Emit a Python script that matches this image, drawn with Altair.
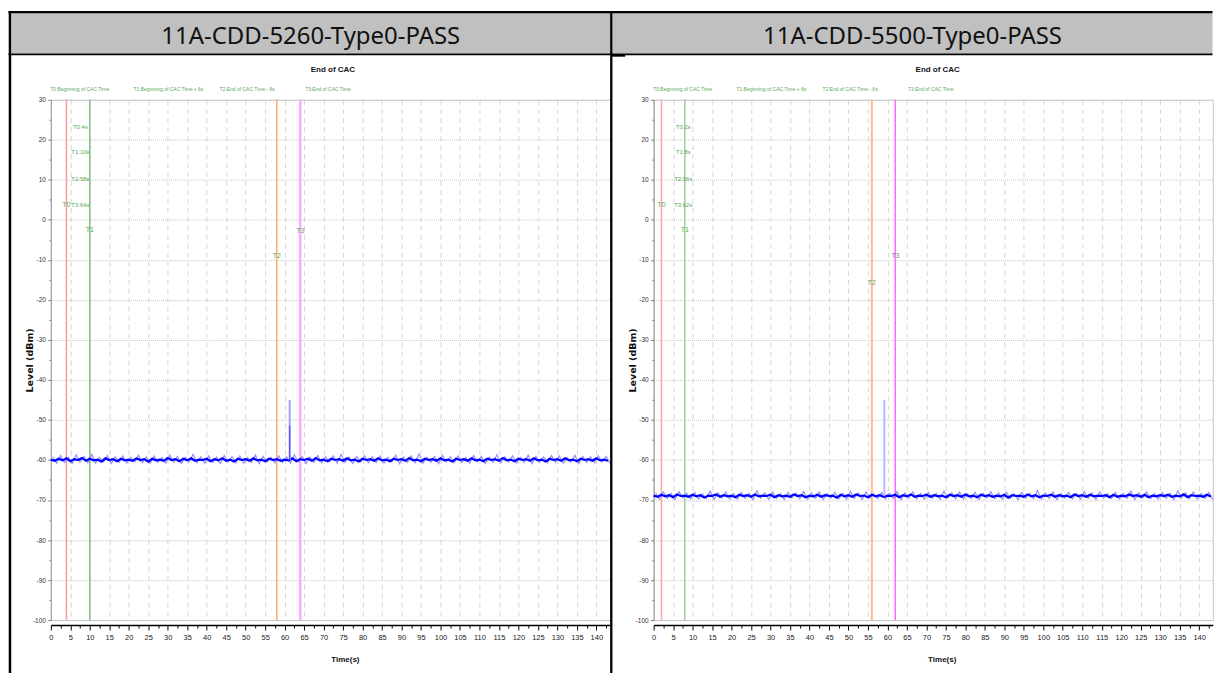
import altair as alt
import pandas as pd

# ---------------------------------------------------------------- text / fonts
NARROW = "Liberation Sans, Arial, sans-serif"
WIDE_BOLD = "DejaVu Sans, Verdana, sans-serif"
HEADER_FONT = "Noto Sans, Open Sans, sans-serif"
GREEN = "#5aa95a"

panel_titles = ["11A-CDD-5260-Type0-PASS", "11A-CDD-5500-Type0-PASS"]
chart_title = "End of CAC"

marker_names = ["T0", "T1", "T2", "T3"]
legend_names = [
    "T0:Beginning of CAC Time",
    "T1:Beginning of CAC Time + 6s",
    "T2:End of CAC Time - 6s",
    "T3:End of CAC Time",
]

# ---------------------------------------------------------------- marker times (s)
left_marker_times = [4, 10, 58, 64]
right_marker_times = [2, 8, 56, 62]

# levels (dBm) at which the marker names are written
left_marker_label_levels = [3.8, -2.6, -9.1, -2.9]
right_marker_label_levels = [3.8, -2.6, -15.8, -9.1]

# stacked "Tn:ts" summary
info_label_time = 7.6
info_label_levels = [23.3, 16.9, 10.2, 3.8]

# ---------------------------------------------------------------- level traces (dBm), one sample per second
trace_times = list(range(144))

left_level = [
    -59.9, -60.2, -59.7, -60.1, -59.6, -60.3, -59.8, -60.0, -59.5, -60.2,
    -59.7, -60.1, -59.9, -60.4, -59.6, -60.0, -59.8, -60.3, -59.7, -60.1,
    -59.9, -60.2, -59.6, -60.0, -59.8, -60.4, -59.7, -60.1, -59.9, -60.2,
    -59.5, -60.0, -59.8, -60.3, -59.7, -60.1, -59.6, -60.2, -59.9, -60.0,
    -59.7, -60.3, -59.8, -60.1, -59.6, -60.2, -59.9, -60.4, -59.7, -60.0,
    -59.8, -60.2, -59.6, -60.1, -59.9, -60.3, -59.7, -60.0, -59.8, -60.2,
    -59.9, -60.1, -59.6, -60.3, -59.8, -60.0, -59.7, -60.2, -59.5, -60.1,
    -59.9, -60.3, -59.7, -60.0, -59.8, -60.2, -59.6, -60.1, -59.9, -60.4,
    -59.7, -60.0, -59.8, -60.2, -59.6, -60.1, -59.9, -60.3, -59.7, -60.0,
    -59.8, -60.2, -59.5, -60.1, -59.9, -60.3, -59.7, -60.0, -59.8, -60.2,
    -59.6, -60.1, -59.9, -60.4, -59.7, -60.0, -59.8, -60.2, -59.6, -60.1,
    -59.9, -60.3, -59.7, -60.0, -59.8, -60.2, -59.5, -60.1, -59.9, -60.3,
    -59.7, -60.0, -59.8, -60.2, -59.6, -60.1, -59.9, -60.4, -59.7, -60.0,
    -59.8, -60.2, -59.6, -60.1, -59.9, -60.3, -59.7, -60.0, -59.8, -60.2,
    -59.6, -60.1, -59.9, -60.2,
]
left_hold = [
    -59.2, -60.8, -58.9, -60.6, -59.4, -60.9, -58.7, -60.5, -59.1, -60.7,
    -58.6, -60.8, -59.3, -60.5, -58.9, -60.9, -59.2, -60.6, -59.0, -60.8,
    -59.3, -60.5, -58.8, -60.7, -59.2, -60.9, -59.0, -60.6, -59.4, -60.8,
    -58.8, -60.6, -59.1, -60.9, -59.3, -60.5, -58.6, -60.7, -59.2, -60.8,
    -59.0, -60.6, -59.3, -60.9, -58.9, -60.5, -59.2, -60.7, -59.0, -60.8,
    -59.4, -60.6, -58.8, -60.9, -59.1, -60.5, -59.3, -60.7, -59.0, -60.6,
    -59.2, -60.8, -58.7, -60.5, -59.1, -60.9, -59.3, -60.6, -58.9, -60.7,
    -59.2, -60.5, -59.0, -60.8, -58.6, -60.6, -59.3, -60.9, -59.1, -60.5,
    -58.9, -60.7, -59.2, -60.6, -59.0, -60.8, -59.4, -60.5, -58.8, -60.9,
    -59.2, -60.6, -59.0, -60.7, -58.5, -60.8, -59.3, -60.6, -59.1, -60.9,
    -58.8, -60.5, -59.2, -60.7, -59.0, -60.6, -59.4, -60.8, -58.9, -60.5,
    -59.1, -60.9, -59.3, -60.6, -58.7, -60.7, -59.2, -60.5, -59.0, -60.8,
    -59.3, -60.6, -58.8, -60.9, -59.1, -60.5, -59.2, -60.7, -58.9, -60.6,
    -59.0, -60.8, -59.4, -60.5, -58.8, -60.9, -59.1, -60.6, -59.2, -60.7,
    -58.9, -60.5, -59.1, -60.8,
]
right_level = [
    -68.9, -69.2, -68.7, -69.1, -68.8, -69.3, -68.6, -69.0, -68.9, -69.2,
    -68.7, -69.1, -68.8, -69.4, -68.9, -69.0, -68.6, -69.2, -68.8, -69.1,
    -68.9, -69.3, -68.7, -69.0, -68.8, -69.2, -68.6, -69.1, -68.9, -69.0,
    -68.7, -69.3, -68.8, -69.1, -68.9, -69.2, -68.6, -69.0, -68.8, -69.3,
    -68.9, -69.1, -68.7, -69.2, -68.8, -69.0, -68.9, -69.4, -68.7, -69.1,
    -68.8, -69.2, -68.6, -69.0, -68.9, -69.3, -68.7, -69.1, -68.8, -69.2,
    -68.9, -69.0, -68.7, -69.3, -68.8, -69.1, -68.6, -69.2, -68.9, -69.0,
    -68.7, -69.2, -68.8, -69.1, -68.9, -69.3, -68.7, -69.0, -68.8, -69.2,
    -68.6, -69.1, -68.9, -69.3, -68.7, -69.0, -68.8, -69.2, -68.9, -69.1,
    -68.7, -69.4, -68.8, -69.0, -68.9, -69.2, -68.6, -69.1, -68.8, -69.3,
    -68.9, -69.0, -68.7, -69.2, -68.8, -69.1, -68.9, -69.3, -68.6, -69.0,
    -68.8, -69.2, -68.7, -69.1, -68.9, -69.0, -68.8, -69.3, -68.7, -69.2,
    -68.9, -69.1, -68.6, -69.0, -68.8, -69.2, -68.7, -69.3, -68.9, -69.1,
    -68.8, -69.0, -68.7, -69.2, -68.9, -69.1, -68.6, -69.3, -68.8, -69.0,
    -68.9, -69.2, -68.7, -69.1,
]
right_hold = [
    -68.2, -69.8, -68.0, -69.6, -68.4, -69.9, -67.9, -69.5, -68.3, -69.7,
    -68.1, -69.8, -68.5, -69.6, -67.8, -69.9, -68.2, -69.5, -68.0, -69.7,
    -68.4, -69.8, -68.1, -69.6, -68.3, -69.9, -67.7, -69.5, -68.2, -69.8,
    -68.0, -69.6, -68.4, -69.9, -68.1, -69.5, -68.3, -69.7, -67.9, -69.8,
    -68.2, -69.6, -68.0, -69.9, -68.4, -69.5, -68.1, -69.7, -68.3, -69.8,
    -67.8, -69.6, -68.2, -69.9, -68.0, -69.5, -68.4, -69.7, -68.1, -69.8,
    -68.3, -69.6, -67.9, -69.9, -68.2, -69.5, -68.0, -69.7, -68.4, -69.8,
    -68.1, -69.6, -68.3, -69.9, -67.8, -69.5, -68.2, -69.7, -68.0, -69.8,
    -68.4, -69.6, -68.1, -69.9, -68.3, -69.5, -67.9, -69.7, -68.2, -69.8,
    -68.0, -69.6, -68.4, -69.9, -68.1, -69.5, -68.3, -69.7, -67.6, -69.8,
    -68.2, -69.6, -68.0, -69.9, -68.4, -69.5, -68.1, -69.7, -68.3, -69.8,
    -67.9, -69.6, -68.2, -69.9, -68.0, -69.5, -68.4, -69.7, -68.1, -69.8,
    -68.3, -69.6, -67.8, -69.9, -68.2, -69.5, -68.0, -69.7, -68.4, -69.8,
    -68.1, -69.6, -68.3, -69.9, -67.7, -69.5, -68.2, -69.7, -68.0, -69.8,
    -68.4, -69.6, -68.1, -69.9,
]

# single bursts: time (s), floor, live peak, held peak (dBm)
left_burst = {"time": 61.3, "floor": -60.0, "live": -51.5, "held": -45.0}
right_burst = {"time": 59.2, "floor": -69.0, "live": None, "held": -45.0}

# ---------------------------------------------------------------- geometry
W, H = 561, 522
xs = alt.Scale(domain=[0, 143.5], nice=False, zero=False)
ys = alt.Scale(domain=[-100, 30], nice=False, zero=False)
ONE_ROW = pd.DataFrame({"row": [0]})

major_x = list(range(0, 145, 5))
minor_x = [v + 2.5 for v in range(0, 145, 5)]
major_y = list(range(30, -101, -10))
minor_y = [v - 5 for v in range(30, -91, -10)]
PLAIN_NUMBER = "'' + datum.value"   # hyphen-minus instead of the typographic minus


def text_at(txt, x, y, **style):
    return alt.Chart(ONE_ROW).mark_text(**style).encode(
        x=alt.value(x), y=alt.value(y), text=alt.value(txt)
    )


def rule_at(color, width, x, y, x2=None, y2=None):
    enc = {"x": alt.value(x), "y": alt.value(y)}
    if x2 is not None:
        enc["x2"] = alt.value(x2)
    if y2 is not None:
        enc["y2"] = alt.value(y2)
    return alt.Chart(ONE_ROW).mark_rule(color=color, strokeWidth=width).encode(**enc)


def panel(title, title_x, header_x0, header_x1, marker_times, marker_colors,
          marker_widths, label_levels, level, hold, burst, end_title_x, time_title_x,
          burst_colors, extra_front=(), extra_back=()):
    layers = list(extra_back)

    # header cell
    layers.append(
        alt.Chart(ONE_ROW).mark_rect(color="#c0c0c0").encode(
            x=alt.value(header_x0), x2=alt.value(header_x1),
            y=alt.value(-87), y2=alt.value(-46.3),
        )
    )
    layers.append(text_at(title, title_x, -56.3, font=HEADER_FONT, fontSize=24,
                          color="#111111", align="center", baseline="alphabetic"))

    # chart title and marker legend
    layers.append(text_at(chart_title, end_title_x, -30, font=NARROW, fontSize=8,
                          fontWeight="bold", color="#111111", baseline="middle"))
    for name, cx in zip(legend_names, [29, 118, 197, 278]):
        layers.append(text_at(name, cx, -11, font=NARROW, fontSize=5,
                              color=GREEN, baseline="middle"))

    # marker lines
    for t, c, w in zip(marker_times, marker_colors, marker_widths):
        layers.append(
            alt.Chart(pd.DataFrame({"time": [t]})).mark_rule(color=c, strokeWidth=w).encode(
                x=alt.X("time:Q", scale=xs, axis=None)
            )
        )

    # held-peak trace (also carries the vertical grid and minor y ticks)
    hold_df = pd.DataFrame({"time": [t + 0.5 for t in trace_times], "level": hold})
    layers.append(
        alt.Chart(hold_df).mark_line(color="#7f7fff", strokeWidth=1.2, opacity=0.85).encode(
            x=alt.X("time:Q", scale=xs, axis=alt.Axis(
                orient="bottom", values=major_x, grid=True, gridColor="#d6d6d6",
                gridDash=[5, 4], gridWidth=1, labels=False, ticks=False,
                domain=False, title=None)),
            y=alt.Y("level:Q", scale=ys, axis=alt.Axis(
                orient="left", values=minor_y, tickSize=2, tickColor="#888888",
                labels=False, domain=False, grid=False, title=None)),
        )
    )

    # live trace (main axes)
    level_df = pd.DataFrame({"time": trace_times, "level": level})
    layers.append(
        alt.Chart(level_df).mark_line(color="#0000ff", strokeWidth=2.2).encode(
            x=alt.X("time:Q", scale=xs, axis=alt.Axis(
                orient="bottom", values=major_x, offset=5, domainColor="#000000",
                domainWidth=1.5, tickColor="#000000", tickSize=5, tickWidth=1,
                labelFont=NARROW, labelFontSize=7.5, labelColor="#222222",
                labelPadding=3, labelOverlap=False, labelFlush=False, grid=False,
                labelExpr=PLAIN_NUMBER,
                title="Time(s)", titleFont=NARROW, titleFontSize=8,
                titleFontWeight="bold", titleColor="#111111", titleX=time_title_x,
                titleY=35, titleBaseline="middle", titleAlign="center")),
            y=alt.Y("level:Q", scale=ys, axis=alt.Axis(
                orient="left", values=major_y, domainColor="#999999",
                tickColor="#777777", tickSize=3, labelFont=NARROW,
                labelFontSize=6.5, labelColor="#333333", labelPadding=2.5,
                labelOverlap=False, labelExpr=PLAIN_NUMBER, grid=True,
                gridColor="#c4c4c4", gridDash=[1, 1], title="Level (dBm)",
                titleFont=WIDE_BOLD, titleFontSize=9.5, titleFontWeight="bold",
                titleColor="#111111", titleX=-21.7, titleY=H / 2, titleAngle=-90,
                titleBaseline="middle", titleAlign="center")),
        )
    )

    # burst (carries the minor x ticks)
    held_df = pd.DataFrame({"time": [burst["time"]], "lo": [burst["floor"]],
                            "hi": [burst["held"]]})
    layers.append(
        alt.Chart(held_df).mark_rule(color=burst_colors[0], strokeWidth=2).encode(
            x=alt.X("time:Q", scale=xs, axis=alt.Axis(
                orient="bottom", values=minor_x, offset=5, tickSize=3,
                tickColor="#000000", labels=False, domain=False, grid=False,
                title=None)),
            y=alt.Y("lo:Q", scale=ys, axis=None),
            y2="hi:Q",
        )
    )
    if burst["live"] is not None:
        live_df = pd.DataFrame({"time": [burst["time"]], "lo": [burst["floor"]],
                                "hi": [burst["live"]]})
        layers.append(
            alt.Chart(live_df).mark_rule(color=burst_colors[1], strokeWidth=1).encode(
                x=alt.X("time:Q", scale=xs, axis=None),
                y=alt.Y("lo:Q", scale=ys, axis=None),
                y2="hi:Q",
            )
        )

    # marker names on the lines
    names_df = pd.DataFrame({"name": marker_names, "time": marker_times,
                             "level": label_levels})
    layers.append(
        alt.Chart(names_df).mark_text(font=NARROW, fontSize=7, color=GREEN).encode(
            x=alt.X("time:Q", scale=xs, axis=None),
            y=alt.Y("level:Q", scale=ys, axis=None),
            text="name:N",
        )
    )

    # stacked "Tn:ts" summary
    info_df = pd.DataFrame({
        "label": [f"{n}:{t}s" for n, t in zip(marker_names, marker_times)],
        "time": [info_label_time] * 4,
        "level": info_label_levels,
    })
    layers.append(
        alt.Chart(info_df).mark_text(font=NARROW, fontSize=6, color=GREEN).encode(
            x=alt.X("time:Q", scale=xs, axis=None),
            y=alt.Y("level:Q", scale=ys, axis=None),
            text="label:N",
        )
    )

    layers.extend(extra_front)

    return alt.layer(*layers).resolve_axis(x="independent", y="independent").properties(
        width=W, height=H
    )


# transparent sheet spanning the page, so the layout starts at the page corner
page_sheet = alt.Chart(ONE_ROW).mark_rect(opacity=0).encode(
    x=alt.value(-50.5), x2=alt.value(1165.5), y=alt.value(-98), y2=alt.value(575)
)

# table borders, drawn with the right cell so they sit on top
table_lines = [
    rule_at("#000000", 2.2, -647.3, -88, x2=560.7),
    rule_at("#000000", 1.8, -647.3, -45.5, x2=560.7),
    rule_at("#000000", 2.5, -645.8, -89, y2=575),
    rule_at("#000000", 2.3, -42.5, -89, y2=575),
    rule_at("#000000", 2.5, -42.5, -44.5, x2=-28.5),
]

left = panel(
    panel_titles[0], 260.8, -39.5, 561.5,
    left_marker_times, ["#ff9a9a", "#80c080", "#ffa468", "#ffa8ff"],
    [1.5, 1.5, 1.4, 2.5], left_marker_label_levels,
    left_level, left_hold, left_burst, 283, 295,
    ["#a0a0ff", "#3a3aff"], extra_back=[page_sheet],
)
right = panel(
    panel_titles[1], 259.7, -41.3, 560.7,
    right_marker_times, ["#ffa6a6", "#90c890", "#ffb896", "#ff6cff"],
    [1.5, 1.3, 2.0, 1.6], right_marker_label_levels,
    right_level, right_hold, right_burst, 285, 289,
    ["#b8b8ff", "#3a3aff"], extra_front=table_lines,
)

chart = alt.hconcat(left, right, spacing=43.8, bounds="flush").properties(
    padding=0, autosize=alt.AutoSizeParams(type="pad")
).configure_view(stroke="#c8c8c8", strokeWidth=1)

chart.save("out.html", embed_options={"renderer": "svg", "actions": False})
